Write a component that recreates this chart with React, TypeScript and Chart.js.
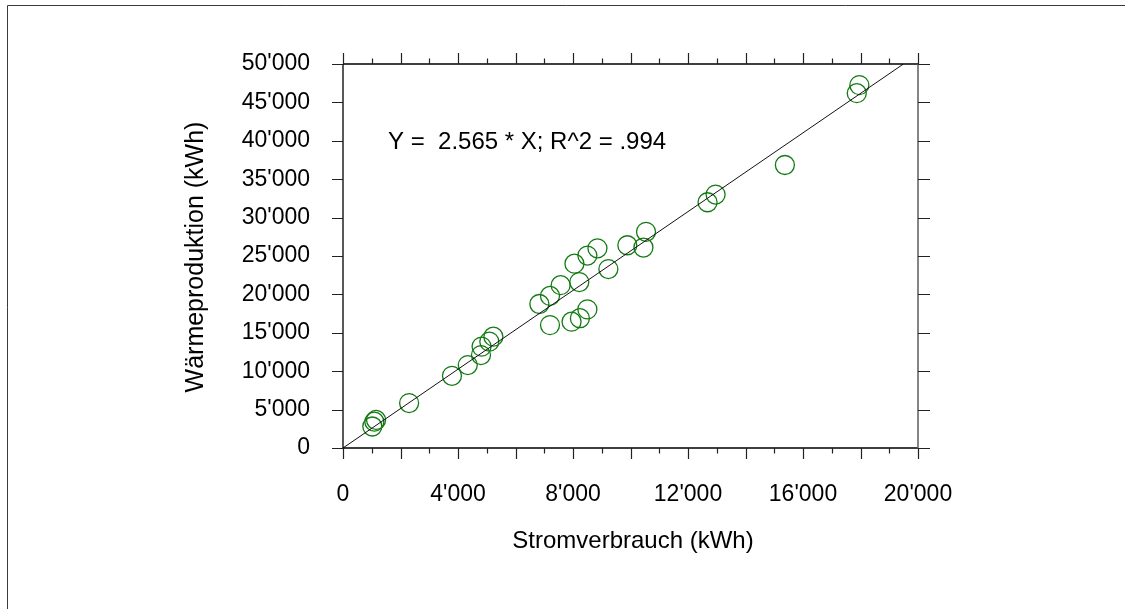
import React, { useEffect, useRef } from "react";
import { Chart, registerables } from "chart.js";

Chart.register(...registerables);

// Data
const stromX: number[] = [
  1020, 1090, 1150, 2300, 3790, 4340, 4800, 4820, 5090, 5230,
  6830, 7200, 7570, 8050, 8220, 8500, 8850, 9230, 9890, 10450,
  10540, 7200, 7950, 8240, 8500, 12680, 12960, 15370, 17870, 17960,
];
const waermeY: number[] = [
  2800, 3430, 3650, 5850, 9400, 10800, 12100, 13200, 13850, 14500,
  18750, 19800, 21200, 24000, 21600, 25050, 26000, 23300, 26400, 26100,
  28150, 16000, 16450, 16900, 18050, 32000, 33000, 36850, 46200, 47250,
];
// regression line endpoints (Y = 2.565 * X)
const fitLineX: number[] = [0, 19493];
const fitLineY: number[] = [0, 50000];

const xTickValues: number[] = [0, 4000, 8000, 12000, 16000, 20000];
const yTickValues: number[] = [0, 5000, 10000, 15000, 20000, 25000, 30000, 35000, 40000, 45000, 50000];

const xTitle = "Stromverbrauch (kWh)";
const yTitle = "Wärmeproduktion (kWh)";
const equationText = "Y =  2.565 * X; R^2 = .994";

const FONT = "'Liberation Sans', Arial, Helvetica, sans-serif";

function fmt(v: number): string {
  const s = String(Math.round(v));
  return s.replace(/\B(?=(\d{3})+(?!\d))/g, "'");
}

const decorPlugin = {
  id: "decor",
  afterDraw(chart: any) {
    const { ctx, chartArea, scales } = chart;
    const xs = scales.x;
    const ys = scales.y;
    const { left, right, top, bottom } = chartArea;
    ctx.save();
    // outer frame (top & left edges)
    ctx.strokeStyle = "#3a3a3a";
    ctx.lineWidth = 1;
    ctx.beginPath();
    ctx.moveTo(7.5, 609);
    ctx.lineTo(7.5, 5.5);
    ctx.lineTo(1125, 5.5);
    ctx.stroke();

    // axes box
    ctx.strokeStyle = "#000";
    ctx.lineWidth = 1.3;
    ctx.beginPath();
    ctx.moveTo(left, top);
    ctx.lineTo(left, bottom);
    ctx.lineTo(right, bottom);
    ctx.moveTo(left, top);
    ctx.lineTo(right, top);
    ctx.stroke();
    ctx.strokeStyle = "#666";
    ctx.lineWidth = 1.6;
    ctx.beginPath();
    ctx.moveTo(right, top);
    ctx.lineTo(right, bottom);
    ctx.stroke();

    // x ticks (bottom & top)
    ctx.lineWidth = 1.2;
    ctx.strokeStyle = "#222";
    for (let v = xs.min; v <= xs.max; v += 1000) {
      const px = Math.round(xs.getPixelForValue(v)) + 0.5;
      const len = v % 2000 === 0 ? 11 : 5.5;
      ctx.beginPath();
      ctx.moveTo(px, bottom);
      ctx.lineTo(px, bottom + len);
      ctx.moveTo(px, top);
      ctx.lineTo(px, top - len);
      ctx.stroke();
    }
    // y ticks (left & right)
    for (const v of yTickValues) {
      const py = Math.round(ys.getPixelForValue(v)) + 0.5;
      ctx.beginPath();
      ctx.moveTo(left, py);
      ctx.lineTo(left - 11, py);
      ctx.moveTo(right, py);
      ctx.lineTo(right + 12, py);
      ctx.stroke();
    }

    // texts
    ctx.fillStyle = "#000";
    ctx.font = `24px ${FONT}`;
    ctx.textAlign = "left";
    ctx.textBaseline = "alphabetic";
    ctx.fillText(equationText, 388, 149);

    ctx.textAlign = "center";
    ctx.fillText(xTitle, 633, 548);

    ctx.font = `25px ${FONT}`;
    ctx.translate(203, 257);
    ctx.rotate(-Math.PI / 2);
    ctx.fillText(yTitle, 0, 0);
    ctx.restore();
  },
};

export default function App() {
  const ref = useRef<HTMLCanvasElement | null>(null);
  useEffect(() => {
    document.body.style.margin = "0";
    document.body.style.overflow = "hidden";
    const canvas = ref.current;
    if (!canvas) return;
    const chart = new Chart(canvas, {
      type: "scatter",
      data: {
        datasets: [
          {
            type: "line",
            data: fitLineX.map((x, i) => ({ x, y: fitLineY[i] })),
            borderColor: "#111",
            borderWidth: 1,
            pointRadius: 0,
            fill: false,
          } as any,
          {
            type: "scatter",
            data: stromX.map((x, i) => ({ x, y: waermeY[i] })),
            pointRadius: 9.5,
            pointHoverRadius: 9.5,
            pointStyle: "circle",
            borderColor: "#137a13",
            backgroundColor: "rgba(0,0,0,0)",
            borderWidth: 1.3,
          } as any,
        ],
      },
      options: {
        responsive: false,
        animation: false,
        events: [],
        layout: { padding: { left: 0, top: 64, right: 207, bottom: 0 } },
        plugins: { legend: { display: false }, tooltip: { enabled: false } },
        scales: {
          x: {
            type: "linear",
            min: 0,
            max: 20000,
            afterFit: (s: any) => {
              s.height = 161;
            },
            afterBuildTicks: (s: any) => {
              s.ticks = xTickValues.map((v) => ({ value: v }));
            },
            grid: { display: false, drawTicks: false },
            border: { display: false },
            ticks: {
              padding: 33,
              color: "#000",
              font: { family: FONT, size: 23 },
              maxRotation: 0,
              callback: (v: any) => fmt(Number(v)),
            },
          },
          y: {
            type: "linear",
            min: 0,
            max: 50000,
            afterFit: (s: any) => {
              s.width = 343;
            },
            afterBuildTicks: (s: any) => {
              s.ticks = yTickValues.map((v) => ({ value: v }));
            },
            grid: { display: false, drawTicks: false },
            border: { display: false },
            ticks: {
              padding: 33,
              color: "#000",
              font: { family: FONT, size: 23 },
              callback: (v: any) => fmt(Number(v)),
            },
          },
        },
      },
      plugins: [decorPlugin],
    });
    return () => chart.destroy();
  }, []);
  return (
    <div style={{ width: 1125, height: 609, position: "relative", background: "#fff" }}>
      <canvas ref={ref} width={1125} height={609} style={{ display: "block", width: 1125, height: 609 }} />
    </div>
  );
}
